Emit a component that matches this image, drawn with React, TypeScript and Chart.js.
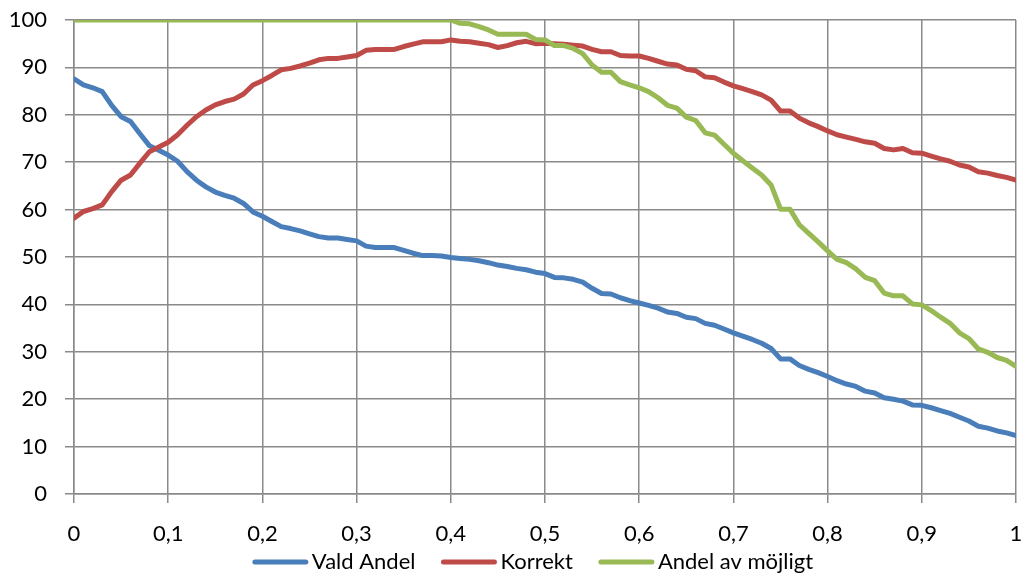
import React, { useEffect, useRef } from "react";
import { Chart, registerables } from "chart.js";

Chart.register(...registerables);

const seriesNames = ["Vald Andel", "Korrekt", "Andel av möjligt"];
const seriesColors = ["#4A7EBB", "#BE4B48", "#98B954"];

const valdAndel = [
  87.6, 86.3, 85.7, 84.9, 82.0, 79.6, 78.6, 76.0, 73.5, 72.5,
  71.5, 70.2, 68.0, 66.2, 64.8, 63.7, 63.0, 62.4, 61.3, 59.5,
  58.6, 57.5, 56.4, 56.0, 55.5, 54.9, 54.3, 54.0, 54.0, 53.7,
  53.4, 52.3, 52.0, 52.0, 52.0, 51.4, 50.8, 50.3, 50.3, 50.2,
  49.9, 49.7, 49.5, 49.2, 48.8, 48.3, 48.0, 47.6, 47.3, 46.8,
  46.5, 45.7, 45.6, 45.3, 44.7, 43.4, 42.3, 42.2, 41.4, 40.8,
  40.3, 39.8, 39.2, 38.4, 38.1, 37.3, 37.0, 36.0, 35.6, 34.8,
  34.0, 33.3, 32.6, 31.8, 30.7, 28.5, 28.5, 27.1, 26.3, 25.6,
  24.8, 23.9, 23.2, 22.7, 21.7, 21.3, 20.3, 20.0, 19.6, 18.8,
  18.7, 18.2, 17.6, 17.0, 16.2, 15.4, 14.3, 13.9, 13.3, 12.9,
  12.3,
];

const korrekt = [
  58.2, 59.6, 60.2, 61.0, 63.8, 66.2, 67.3, 69.8, 72.2, 73.2,
  74.2, 75.8, 77.8, 79.6, 81.0, 82.1, 82.8, 83.3, 84.4, 86.3,
  87.2, 88.3, 89.5, 89.8, 90.3, 90.9, 91.6, 91.9, 91.9, 92.2,
  92.5, 93.6, 93.8, 93.8, 93.8, 94.4, 94.9, 95.4, 95.4, 95.4,
  95.8, 95.5, 95.4, 95.1, 94.8, 94.2, 94.6, 95.2, 95.5, 95.0,
  95.1, 95.0, 94.9, 94.7, 94.5, 93.8, 93.3, 93.3, 92.5, 92.4,
  92.4, 91.9, 91.3, 90.7, 90.5, 89.6, 89.3, 88.0, 87.8, 86.9,
  86.1, 85.5, 84.9, 84.2, 83.1, 80.8, 80.8, 79.3, 78.3, 77.5,
  76.6, 75.8, 75.3, 74.8, 74.3, 74.0, 72.9, 72.6, 72.9, 72.0,
  71.9, 71.3, 70.7, 70.2, 69.4, 69.0, 68.0, 67.7, 67.2, 66.8,
  66.2,
];

const andelAvMojligt = [
  100, 100, 100, 100, 100, 100, 100, 100, 100, 100,
  100, 100, 100, 100, 100, 100, 100, 100, 100, 100,
  100, 100, 100, 100, 100, 100, 100, 100, 100, 100,
  100, 100, 100, 100, 100, 100, 100, 100, 100, 100,
  100, 99.3, 99.2, 98.6, 97.9, 97.0, 97.0, 97.0, 97.0, 95.9,
  95.8, 94.6, 94.6, 94.0, 92.9, 90.5, 89.0, 89.0, 87.0, 86.3,
  85.7, 84.9, 83.6, 82.0, 81.4, 79.5, 78.8, 76.2, 75.7, 73.8,
  71.9, 70.3, 68.8, 67.3, 65.2, 60.1, 60.1, 56.8, 55.0, 53.2,
  51.3, 49.5, 48.8, 47.5, 45.7, 45.0, 42.4, 41.8, 41.8, 40.1,
  39.9, 38.7, 37.3, 36.0, 34.0, 32.8, 30.6, 29.9, 28.8, 28.2,
  26.9,
];

const seriesValues = [valdAndel, korrekt, andelAvMojligt];
const xValues = valdAndel.map((_, i) => i / 100);

const xMin = 0;
const xMax = 1;
const xStep = 0.1;
const yMin = 0;
const yMax = 100;
const yStep = 10;

const FONT = "Lato, 'Open Sans', sans-serif";

const noOverflow = (s: any) => {
  s.paddingTop = 0;
  s.paddingBottom = 0;
  s.paddingLeft = 0;
  s.paddingRight = 0;
};

// Excel-style legend: short thick line, small gap, label; items centred below the axis.
const legendPlugin = {
  id: "excelLegend",
  afterDraw(chart: any) {
    const ctx = chart.ctx;
    const swatch = 55;
    const gapText = 4;
    const gapItem = 26;
    const cy = 562;
    const centerX = 533;
    ctx.save();
    ctx.font = `22px ${FONT}`;
    const datasets = chart.data.datasets;
    const widths = datasets.map((d: any) => ctx.measureText(d.label).width);
    const total =
      widths.reduce((a: number, w: number) => a + swatch + gapText + w, 0) + gapItem * (datasets.length - 1);
    let x = centerX - total / 2;
    datasets.forEach((d: any, i: number) => {
      ctx.strokeStyle = d.borderColor;
      ctx.lineWidth = 5;
      ctx.lineCap = "round";
      ctx.beginPath();
      ctx.moveTo(x + 2, cy);
      ctx.lineTo(x + swatch - 2, cy);
      ctx.stroke();
      ctx.fillStyle = "#000";
      ctx.textBaseline = "middle";
      ctx.textAlign = "left";
      ctx.fillText(d.label, x + swatch + gapText, cy);
      x += swatch + gapText + widths[i] + gapItem;
    });
    ctx.restore();
  },
};

export default function App() {
  const ref = useRef<HTMLCanvasElement | null>(null);

  useEffect(() => {
    if (!ref.current) return;
    const gridColor = "#8a8a8a";
    const chart = new Chart(ref.current, {
      type: "line",
      data: {
        datasets: seriesValues.map((vals, k) => ({
          label: seriesNames[k],
          data: vals.map((v, i) => ({ x: xValues[i], y: v })),
          borderColor: seriesColors[k],
          backgroundColor: seriesColors[k],
          borderWidth: 5,
          pointRadius: 0,
          tension: 0,
          fill: false,
          borderJoinStyle: "round",
          borderCapStyle: "round",
          order: 3 - k,
        })),
      },
      plugins: [legendPlugin],
      options: {
        responsive: false,
        animation: false,
        layout: { padding: { left: 0, right: 8, top: 20, bottom: 32 } },
        plugins: {
          tooltip: { enabled: false },
          legend: { display: false },
        },
        scales: {
          x: {
            type: "linear",
            min: xMin,
            max: xMax,
            afterFit: (s: any) => {
              s.height = 50;
              noOverflow(s);
            },
            ticks: {
              stepSize: xStep,
              padding: 18,
              color: "#000",
              font: { family: FONT, size: 22 },
              maxRotation: 0,
              callback: (v: any) => String(Math.round(Number(v) * 10) / 10).replace(".", ","),
            },
            grid: { color: gridColor, lineWidth: 1.5, tickLength: 9 },
            border: { color: gridColor, width: 1.5 },
          },
          y: {
            min: yMin,
            max: yMax,
            afterFit: (s: any) => {
              s.width = 74;
              noOverflow(s);
            },
            ticks: {
              stepSize: yStep,
              padding: 18,
              color: "#000",
              font: { family: FONT, size: 22 },
            },
            grid: { color: gridColor, lineWidth: 1.5, tickLength: 9 },
            border: { color: gridColor, width: 1.5 },
          },
        },
      },
    });
    return () => chart.destroy();
  }, []);

  return (
    <div style={{ position: "absolute", left: 0, top: 0, width: 1024, height: 576, background: "#fff" }}>
      <canvas ref={ref} width={1024} height={576} />
    </div>
  );
}
